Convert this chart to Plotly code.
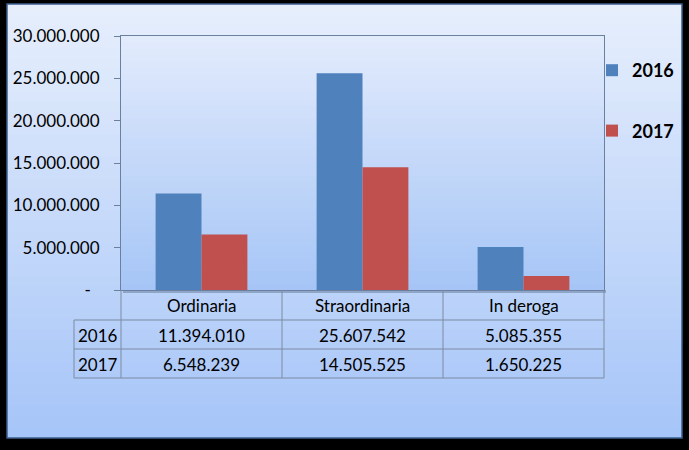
import plotly.graph_objects as go

categories = ["Ordinaria", "Straordinaria", "In deroga"]
series_names = ["2016", "2017"]
values_2016 = [11394010, 25607542, 5085355]
values_2017 = [6548239, 14505525, 1650225]
tick_values = [0, 5000000, 10000000, 15000000, 20000000, 25000000, 30000000]
colors = ["#4f81bd", "#c0504d"]

W, H = 689, 450
PL, PR, PT, PB = 121, 604, 36, 290
FONT = "Lato"
FS = 17


def fmt(v):
    return f"{v:,}".replace(",", ".")


def px(x):
    return (x - PL) / (PR - PL)


def py(y):
    return (PB - y) / (PB - PT)


def lerp(c1, c2, t):
    return "rgb(%d,%d,%d)" % tuple(round(a + (b - a) * t) for a, b in zip(c1, c2))


fig = go.Figure()
for name, vals, col in zip(series_names, [values_2016, values_2017], colors):
    fig.add_trace(go.Bar(x=categories, y=vals, name=name, marker=dict(color=col, line=dict(width=0)),
                         legendgroup=name))

shapes = []
# panel gradient
n = 40
x0, x1, y0, y1 = 7, 682, 4, 438
for i in range(n):
    ya = y0 + (y1 - y0) * i / n
    yb = min(y1, y0 + (y1 - y0) * (i + 1) / n + 4)
    shapes.append(dict(type="rect", xref="paper", yref="paper", x0=px(x0), x1=px(x1), y0=py(ya), y1=py(yb),
                       fillcolor=lerp((230, 238, 252), (166, 197, 248), i / (n - 1)), line=dict(width=0),
                       layer="below"))
shapes.append(dict(type="rect", xref="paper", yref="paper", x0=px(x0), x1=px(x1), y0=py(y0), y1=py(y1),
                   fillcolor="rgba(0,0,0,0)", line=dict(width=1.5, color="#3d5f8f"), layer="below"))
# plot area gradient
for i in range(n):
    ya = PT + (PB - PT) * i / n
    yb = min(PB, PT + (PB - PT) * (i + 1) / n + 4)
    shapes.append(dict(type="rect", xref="paper", yref="paper", x0=0, x1=1, y0=py(ya), y1=py(yb),
                       fillcolor=lerp((226, 235, 252), (166, 197, 246), i / (n - 1)), line=dict(width=0),
                       layer="below"))
# plot area bottom shadow
shapes.append(dict(type="rect", xref="paper", yref="paper", x0=px(PL + 2), x1=px(PR + 2), y0=py(PB + 3), y1=py(PB),
                   fillcolor="rgba(60,80,110,0.35)", line=dict(width=0), layer="below"))

# table lines
lc = "#7d8aa0"
cat_edges = [121, 282, 443, 604]
row_lines = [320, 349, 378]
for yl in row_lines:
    shapes.append(dict(type="line", xref="paper", yref="paper", x0=px(74), x1=px(604), y0=py(yl), y1=py(yl),
                       line=dict(color=lc, width=1)))
for xe in cat_edges:
    shapes.append(dict(type="line", xref="paper", yref="paper", x0=px(xe), x1=px(xe), y0=py(290), y1=py(378),
                       line=dict(color=lc, width=1)))
shapes.append(dict(type="line", xref="paper", yref="paper", x0=px(74), x1=px(74), y0=py(320), y1=py(378),
                   line=dict(color=lc, width=1)))

annotations = []
col_centers = [(cat_edges[i] + cat_edges[i + 1]) / 2 for i in range(3)]
for c, cx in zip(categories, col_centers):
    annotations.append(dict(text=c, xref="paper", yref="paper", x=px(cx), y=py(305), showarrow=False,
                            xanchor="center", yanchor="middle", font=dict(family=FONT, size=FS, color="#000")))
for name, vals, yc in zip(series_names, [values_2016, values_2017], [335, 364]):
    annotations.append(dict(text=name, xref="paper", yref="paper", x=px(97.5), y=py(yc), showarrow=False,
                            xanchor="center", yanchor="middle", font=dict(family=FONT, size=FS, color="#000")))
    for v, cx in zip(vals, col_centers):
        annotations.append(dict(text=fmt(v), xref="paper", yref="paper", x=px(cx), y=py(yc), showarrow=False,
                                xanchor="center", yanchor="middle", font=dict(family=FONT, size=FS, color="#000")))

fig.update_layout(
    width=W, height=H,
    margin=dict(l=PL, r=W - PR, t=PT, b=H - PB, pad=0, autoexpand=False),
    paper_bgcolor="#000000",
    plot_bgcolor="rgba(0,0,0,0)",
    barmode="group", bargap=0.43, bargroupgap=0,
    shapes=shapes, annotations=annotations,
    showlegend=True,
    legend=dict(x=px(592), y=py(52), xanchor="left", yanchor="top", bgcolor="rgba(0,0,0,0)",
                font=dict(family=FONT, size=18, color="#000", weight="bold"),
                tracegroupgap=34, itemwidth=30, traceorder="grouped"),
    xaxis=dict(showticklabels=False, ticks="", showline=True, linecolor="#6b7f9e", linewidth=1, mirror=True,
               showgrid=False, zeroline=False, range=[-0.5, 2.5], automargin=False),
    yaxis=dict(range=[0, 30000000], tickvals=tick_values,
               ticktext=["-  "] + [fmt(v) for v in tick_values[1:]],
               ticks="outside", ticklen=6, tickcolor="#6b7f9e", showline=True, linecolor="#6b7f9e",
               linewidth=1, mirror=True, showgrid=False, zeroline=False, automargin=False,
               tickfont=dict(family=FONT, size=FS, color="#000"), ticklabelstandoff=11),
)

fig.write_html("out.html", config={"displayModeBar": False},
               post_script="document.body.style.margin='0';document.body.style.background='#000';")
